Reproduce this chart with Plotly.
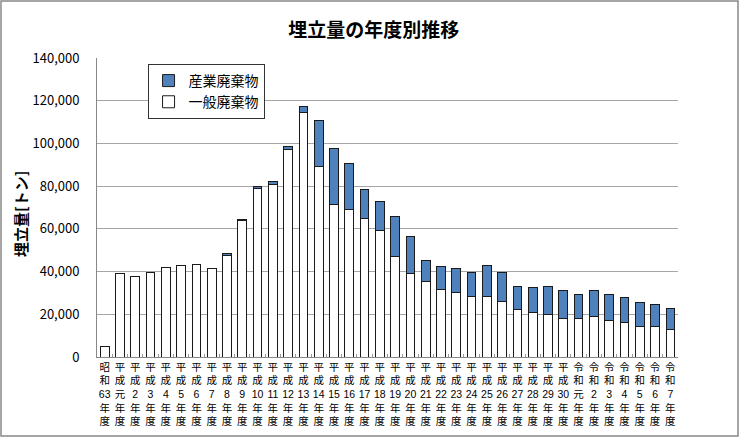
import plotly.graph_objects as go

categories = ["昭和63年度", "平成元年度"] + [f"平成{i}年度" for i in range(2, 31)] + ["令和元年度"] + [f"令和{i}年度" for i in range(2, 8)]

general = [4700, 39100, 37900, 39600, 42100, 42700, 43300, 41300, 47500, 64000,
           79100, 80700, 97200, 114400, 89100, 71500, 69300, 64700, 59100, 47200,
           39000, 35500, 31600, 30400, 28200, 28500, 26200, 22300, 20700, 19800,
           18100, 18100, 18900, 17200, 16000, 14500, 14200, 13100]
industrial = [0, 0, 0, 0, 0, 0, 0, 0, 800, 200,
              900, 1400, 1400, 3100, 21800, 25900, 21200, 13500, 13900, 18400,
              17400, 9600, 11000, 11100, 11200, 14200, 13600, 10700, 12000, 13400,
              12900, 11000, 12100, 12000, 11900, 11200, 10300, 9500]

yticks = [0, 20000, 40000, 60000, 80000, 100000, 120000, 140000]


def vertical(label):
    # stack characters vertically, keeping digit groups together
    parts = []
    buf = ""
    for ch in label:
        if ch.isdigit():
            buf += ch
        else:
            if buf:
                parts.append(buf)
                buf = ""
            parts.append(ch)
    if buf:
        parts.append(buf)
    return "<br>".join(parts)


ticktext = [vertical(c) for c in categories]
FONT = "Noto Sans CJK JP"
TICKFONT = "Liberation Sans, Noto Sans CJK JP"

fig = go.Figure()
fig.add_trace(go.Bar(
    x=categories, y=general, name="一般廃棄物",
    marker=dict(color="white", line=dict(color="#1a1a1a", width=1)),
))
fig.add_trace(go.Bar(
    x=categories, y=industrial, name="産業廃棄物",
    marker=dict(color="#4F81BD", line=dict(color="#1a1a1a", width=1)),
))

fig.update_layout(
    barmode="stack",
    bargap=0.43,
    width=740, height=438,
    margin=dict(l=97, r=62, t=58, b=81),
    paper_bgcolor="white", plot_bgcolor="white",
    font=dict(family=FONT, color="black"),
    title=dict(text="<b>埋立量の年度別推移</b>", x=0.505, xanchor="center",
               y=1 - 30 / 438, yanchor="middle", font=dict(size=19, family=FONT)),
    legend=dict(x=0.087, y=0.98, xanchor="left", yanchor="top",
                traceorder="reversed", bgcolor="white",
                bordercolor="#333333", borderwidth=1,
                font=dict(size=14, family=FONT), tracegroupgap=0),
    showlegend=True,
)

fig.update_xaxes(
    tickmode="array", tickvals=categories, ticktext=ticktext,
    tickangle=0, tickfont=dict(size=10.5, family=TICKFONT),
    showline=True, linecolor="#888888", linewidth=1,
    ticks="inside", tickson="boundaries", ticklen=3, tickcolor="#999999",
    showgrid=False, automargin=False,
)
fig.update_yaxes(
    range=[0, 140000], tickvals=yticks, tickformat=",",
    tickfont=dict(size=13, family=FONT),
    showline=True, linecolor="#888888", linewidth=1,
    showgrid=True, gridcolor="#A6A6A6", gridwidth=1,
    ticks="", ticklabelstandoff=14, zeroline=False, automargin=False,
)

fig.add_annotation(
    text="<b>埋立量[トン]</b>", textangle=-90,
    xref="paper", yref="paper", x=(20 - 97) / 581, y=(357 - 214) / 299,
    xanchor="center", yanchor="middle", showarrow=False,
    font=dict(size=15, family=FONT),
)

fig.add_shape(
    type="rect", xref="paper", yref="paper",
    x0=(1 - 97) / 581, x1=(738 - 97) / 581,
    y0=(357 - 436) / 299, y1=(357 - 1) / 299,
    line=dict(color="#888888", width=1.5), fillcolor="rgba(0,0,0,0)",
    layer="below",
)

fig.write_html("out.html", config={"displayModeBar": False},
               post_script="document.body.style.margin='0';document.body.style.overflow='hidden';")
